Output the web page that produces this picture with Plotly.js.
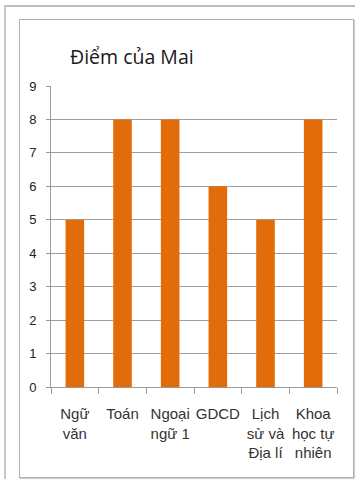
<!DOCTYPE html>
<html>
<head>
<meta charset="utf-8">
<script src="https://cdn.plot.ly/plotly-3.0.1.min.js"></script>
<style>
  html, body { margin: 0; padding: 0; background: #fff; }
  #wrap { position: relative; width: 358px; height: 486px; overflow: hidden; }
  #chart { position: absolute; left: 0; top: 0; width: 358px; height: 486px; }
  .frame { position: absolute; pointer-events: none; }
</style>
</head>
<body>
<div id="wrap">
  <div id="chart"></div>
  <div class="frame" style="left:4px; top:5px; width:351px; height:2px; background:#bdbdbd;"></div>
  <div class="frame" style="left:4px; top:5px; width:2px; height:474px; background:#c8c8c8;"></div>
  <div class="frame" style="left:19px; top:19px; width:333px; height:457px; border:1px solid #b0b0b0; box-shadow:1px 1px 1px #d0d0d0;"></div>
</div>
<script>
const subjects = ["Ngữ<br>văn", "Toán", "Ngoại<br>ngữ 1", "GDCD", "Lịch<br>sử và<br>Địa lí", "Khoa<br>học tự<br>nhiên"];
const scores = [5, 8, 8, 6, 5, 8];
const yTicks = [0, 1, 2, 3, 4, 5, 6, 7, 8, 9];

const trace = {
  type: "bar",
  x: subjects,
  y: scores,
  marker: { color: "#E36C0A" },
  hoverinfo: "none"
};

const layout = {
  width: 358,
  height: 486,
  margin: { l: 51, r: 21, t: 86, b: 99 },
  paper_bgcolor: "rgba(0,0,0,0)",
  plot_bgcolor: "rgba(0,0,0,0)",
  showlegend: false,
  bargap: 0.61,
  title: {
    text: "Điểm của Mai",
    font: { family: "Open Sans, Noto Sans, sans-serif", size: 19.5, color: "#1a1a1a" },
    x: 70 / 358,
    xanchor: "left",
    xref: "container",
    y: 1 - 57 / 486,
    yanchor: "middle",
    yref: "container"
  },
  xaxis: {
    type: "category",
    showline: true,
    linecolor: "#9a9a9a",
    linewidth: 1,
    ticks: "outside",
    tickson: "boundaries",
    ticklen: 6,
    tickcolor: "#9a9a9a",
    ticklabelstandoff: 13,
    tickfont: { family: "Liberation Sans, Arial, sans-serif", size: 15, color: "#333" },
    tickangle: 0,
    showgrid: false
  },
  yaxis: {
    range: [0, 9],
    tickvals: yTicks,
    ticktext: yTicks.map(String),
    showline: true,
    linecolor: "#9a9a9a",
    linewidth: 1,
    ticks: "outside",
    ticklen: 4,
    tickcolor: "#9a9a9a",
    showgrid: true,
    gridcolor: "#a0a0a0",
    gridwidth: 1,
    zeroline: false,
    ticklabelstandoff: 7,
    tickfont: { family: "Liberation Sans, Arial, sans-serif", size: 13, color: "#222" }
  }
};

Plotly.newPlot("chart", [trace], layout, { staticPlot: true, displayModeBar: false });
</script>
</body>
</html>
